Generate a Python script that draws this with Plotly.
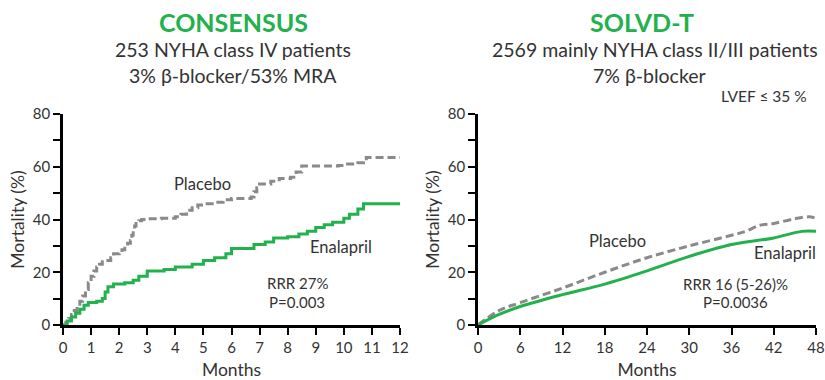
import plotly.graph_objects as go

W, H = 825, 380

# CONSENSUS: Kaplan-Meier mortality (%) by month
cons_placebo_t = [0, 0.1, 0.2, 0.3, 0.4, 0.5, 0.6, 0.7, 0.8, 0.9, 1.0, 1.1, 1.2, 1.3, 1.4, 1.5,
                  1.7, 1.8, 2.0, 2.1, 2.2, 2.3, 2.4, 2.45, 2.5, 2.55, 2.6, 2.7, 2.8, 3.0, 3.5,
                  4.0, 4.2, 4.4, 4.6, 4.8, 5.0, 5.4, 5.7, 6.0, 6.7, 6.8, 6.9, 7.0, 7.4, 7.7,
                  8.1, 8.3, 8.5, 9.0, 9.8, 10.0, 10.5, 10.7, 10.8, 12.0]
cons_placebo_v = [0, 1, 2.5, 4, 5.5, 7, 9, 11, 13.5, 16, 18.5, 20.5, 22, 23, 24, 24.5,
                  25.5, 27, 27.5, 28.5, 30, 31, 32, 34, 36.5, 37.5, 38.5, 39.5, 40, 40.3, 40.5,
                  41, 42, 43.5, 44.5, 45.5, 46, 46.5, 47.5, 48, 48.5, 50.5, 52, 53.5, 54.5, 55.5,
                  56, 58, 60.3, 60.3, 60.5, 61, 61.5, 63, 63.5, 63.5]

cons_enal_t = [0, 0.15, 0.3, 0.45, 0.6, 0.75, 0.9, 1.2, 1.4, 1.5, 1.6, 1.8, 2.2, 2.5, 2.7,
               3.0, 3.6, 4.0, 4.6, 5.0, 5.4, 5.8, 6.0, 6.6, 6.8, 7.2, 7.5, 8.0, 8.4, 8.7,
               9.0, 9.3, 9.6, 10.0, 10.2, 10.5, 10.7, 12.0]
cons_enal_v = [0, 1.5, 3, 4.5, 6, 7.5, 8.5, 9, 10, 12.5, 14.5, 15.5, 16, 17, 18.5,
               20.5, 21, 22, 23, 24.5, 25.5, 27, 29, 29, 30.5, 31.5, 33, 33.5, 34.5, 35.5,
               37, 38, 39, 40.5, 42, 44, 46, 46.5]

# SOLVD-T: mortality (%) by month
solvd_placebo_t = [0, 3, 6, 12, 18, 24, 30, 36, 38, 40, 42, 45, 47, 48]
solvd_placebo_v = [0, 5.5, 8.5, 14, 20, 25.5, 30, 34, 35.5, 37.8, 38.5, 40.3, 41, 40.5]

solvd_enal_t = [0, 3, 6, 12, 18, 24, 30, 36, 42, 46, 48]
solvd_enal_v = [0, 4, 7, 11.5, 15.5, 20.5, 26, 30.5, 33, 35.5, 35.5]

cons_xticks = list(range(0, 13))
solvd_xticks = list(range(0, 49, 6))
y_ticks = list(range(0, 81, 10))
y_ticktext = [str(v) if v % 20 == 0 else "" for v in y_ticks]

GREEN = "#22b14c"
GREY = "#8a8a8a"
FONT = "Lato"
TXT = "#333333"


def px(x):
    return x / W


def py(y):
    return 1 - y / H


fig = go.Figure()

fig.add_trace(go.Scatter(x=cons_placebo_t, y=cons_placebo_v, mode="lines", line_shape="hv",
                         line=dict(color=GREY, width=3, dash="8px,4px"),
                         xaxis="x", yaxis="y", showlegend=False))
fig.add_trace(go.Scatter(x=cons_enal_t, y=cons_enal_v, mode="lines", line_shape="hv",
                         line=dict(color=GREEN, width=3),
                         xaxis="x", yaxis="y", showlegend=False))
fig.add_trace(go.Scatter(x=solvd_placebo_t, y=solvd_placebo_v, mode="lines", line_shape="spline",
                         line=dict(color=GREY, width=3, dash="8px,4px"),
                         xaxis="x2", yaxis="y2", showlegend=False))
fig.add_trace(go.Scatter(x=solvd_enal_t, y=solvd_enal_v, mode="lines", line_shape="spline",
                         line=dict(color=GREEN, width=3),
                         xaxis="x2", yaxis="y2", showlegend=False))

axis_common = dict(showline=True, linecolor="black", linewidth=2.5, ticks="outside",
                   ticklen=7, tickwidth=2, tickcolor="black", showgrid=False, zeroline=False,
                   automargin=False, tickfont=dict(family=FONT, size=15, color=TXT))

ydom = [py(325), py(114)]
title_font = dict(family=FONT, size=17.5, color=TXT)

fig.update_layout(
    width=W, height=H, margin=dict(l=0, r=0, t=0, b=0),
    paper_bgcolor="white", plot_bgcolor="white",
    font=dict(family=FONT, color=TXT),
    xaxis=dict(domain=[px(63), px(400)], range=[0, 12], tickvals=cons_xticks, anchor="y",
               title=dict(text="Months", font=title_font, standoff=13), **axis_common),
    yaxis=dict(domain=ydom, range=[0, 80], tickvals=y_ticks, ticktext=y_ticktext, anchor="x",
               title=dict(text="Mortality (%)", font=title_font, standoff=4), **axis_common),
    xaxis2=dict(domain=[px(478), px(816)], range=[0, 48], tickvals=solvd_xticks, anchor="y2",
                title=dict(text="Months", font=title_font, standoff=13), **axis_common),
    yaxis2=dict(domain=ydom, range=[0, 80], tickvals=y_ticks, ticktext=y_ticktext, anchor="x2",
                title=dict(text="Mortality (%)", font=title_font, standoff=4), **axis_common),
)


def note(text, x, y, size, color=TXT, bold=False, xanchor="center"):
    fig.add_annotation(text=f"<b>{text}</b>" if bold else text, x=px(x), y=py(y),
                       xref="paper", yref="paper", xanchor=xanchor, yanchor="middle",
                       showarrow=False, font=dict(family=FONT, size=size, color=color))


# Panel headings
note("CONSENSUS", 233, 22, 25, GREEN, bold=True)
note("253 NYHA class IV patients", 233, 50, 19.5)
note("3% β-blocker/53% MRA", 233, 75, 19.5)
note("SOLVD-T", 642, 22, 25, GREEN, bold=True)
note("2569 mainly NYHA class II/III patients", 655, 50, 19.5)
note("7% β-blocker", 649, 75, 19.5)
note("LVEF ≤ 35 %", 809, 96, 15.5, xanchor="right")

# In-plot labels
note("Placebo", 202, 184, 16.5)
note("Enalapril", 341, 247, 16.5)
note("RRR 27%", 297, 283, 15)
note("P=0.003", 297, 302, 15)
note("Placebo", 617, 241, 16.5)
note("Enalapril", 785, 253, 16.5)
note("RRR 16 (5-26)%", 735, 284, 15)
note("P=0.0036", 735, 302, 15)

fig.write_html("out.html")
